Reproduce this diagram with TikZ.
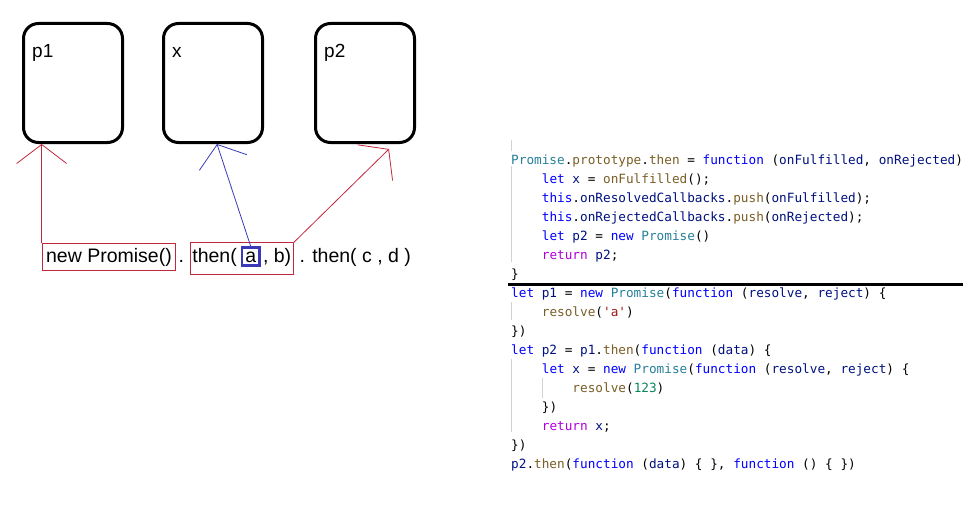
\documentclass[tikz,border=0pt]{standalone}
\usepackage{fontspec}
\setmainfont{Liberation Sans}
\newfontfamily\codefont{DejaVu Sans Mono}
\usetikzlibrary{positioning,fit,arrows.meta}
\definecolor{kwblue}{HTML}{0000FF}
\definecolor{tyteal}{HTML}{267F99}
\definecolor{fnbrown}{HTML}{795E26}
\definecolor{vrnavy}{HTML}{001080}
\definecolor{rtpurple}{HTML}{AF00DB}
\definecolor{strred}{HTML}{A31515}
\definecolor{numgreen}{HTML}{098658}
\definecolor{boxred}{HTML}{C0283C}
\definecolor{ablue}{HTML}{3A3AB8}
\newcommand\cKw[1]{\textcolor{kwblue}{#1}}
\newcommand\cTy[1]{\textcolor{tyteal}{#1}}
\newcommand\cFn[1]{\textcolor{fnbrown}{#1}}
\newcommand\cVr[1]{\textcolor{vrnavy}{#1}}
\newcommand\cRt[1]{\textcolor{rtpurple}{#1}}
\newcommand\cSt[1]{\textcolor{strred}{#1}}
\newcommand\cNm[1]{\textcolor{numgreen}{#1}}
\tikzset{
  pbox/.style={draw, line width=3pt, rounded corners=15pt, minimum width=99pt, minimum height=119pt},
  plbl/.style={anchor=base west, inner sep=0, font=\fontsize{19}{22}\selectfont},
  row/.style={inner xsep=2pt, inner ysep=4.5pt, text height=15pt, text depth=3pt, font=\fontsize{19.5}{22}\selectfont},
  redbox/.style={draw=boxred, line width=1pt},
  link/.style={line width=0.8pt, -{Straight Barb[length=19pt,width=50pt]}},
  code/.style={anchor=base west, inner sep=0, font=\codefont\fontsize{12.72}{19}\selectfont},
  guide/.style={draw=gray!35, line width=0.8pt}
}
\begin{document}
\begin{tikzpicture}[x=1pt,y=-1pt]
\pgfmathsetmacro\lh{19};
\pgfmathsetmacro\ind{30.64};
\useasboundingbox (0,0) rectangle (966,527);
\foreach \n/\cx/\lbl in {bp1/73/p1, bx/213/x, bp2/365/p2} {
  \node[pbox] (\n) at (\cx,83) {};
  \node[plbl] (\n l) at ([xshift=10pt,yshift=-35pt]\n.north west) {\lbl};
}
\node[row, redbox, inner xsep=4pt] (np) at (109,256.5) {new Promise()};
\node[row, right=0pt of np] (dot1) {.};
\node[row, right=4pt of dot1] (then1) {then(};
\node[row, draw=ablue, line width=2.5pt, inner xsep=3.5pt, inner ysep=2pt, text height=13pt, text depth=1pt, right=1.5pt of then1] (a) {a};
\node[row, right=0pt of a] (b) {, b)};
\coordinate (tlow) at ([yshift=-4pt]then1.south);
\node[redbox, fit=(then1)(a)(b)(tlow), inner sep=0] (tbox) {};
\node[row, right=4pt of b] (cd) {. then( c , d )};
\draw[link, draw=boxred] (np.north west) -- (np.north west |- bp1.south);
\draw[link, draw=ablue] (a.north) -- ([xshift=4pt]bx.south);
\draw[link, draw=boxred] (tbox.north east) -- ([xshift=-27pt,yshift=-5pt]bp2.south east);
\draw[guide] (511.5,140) -- (511.5,151);
\draw[guide] (511.5,166) -- (511.5,262);
\draw[guide] (511.5,302) -- (511.5,320);
\draw[guide] (511.5,359) -- (511.5,432);
\draw[guide] (542.5,378) -- (542.5,398);
\node[code] (c1) at (511,164) {\cTy{Promise}.\cFn{prototype}.\cFn{then} = \cKw{function} (\cVr{onFulfilled}, \cVr{onRejected})};
\node[code] (c2) at (511+\ind,164+\lh*1) {\cKw{let} \cVr{x} = \cFn{onFulfilled}();};
\node[code] (c3) at (511+\ind,164+\lh*2) {\cKw{this}.\cVr{onResolvedCallbacks}.\cFn{push}(\cVr{onFulfilled});};
\node[code] (c4) at (511+\ind,164+\lh*3) {\cKw{this}.\cVr{onRejectedCallbacks}.\cFn{push}(\cVr{onRejected});};
\node[code] (c5) at (511+\ind,164+\lh*4) {\cKw{let} \cVr{p2} = \cKw{new} \cTy{Promise}()};
\node[code] (c6) at (511+\ind,164+\lh*5) {\cRt{return} \cVr{p2};};
\node[code] (c7) at (511,164+\lh*6) {\}};
\draw[line width=3pt] (508,284.5) -- (963,284.5);
\node[code] (c8) at (511,164+\lh*7) {\cKw{let} \cVr{p1} = \cKw{new} \cTy{Promise}(\cKw{function} (\cVr{resolve}, \cVr{reject}) \{};
\node[code] (c9) at (511+\ind,164+\lh*8) {\cFn{resolve}(\cSt{'a'})};
\node[code] (c10) at (511,164+\lh*9) {\})};
\node[code] (c11) at (511,164+\lh*10) {\cKw{let} \cVr{p2} = \cVr{p1}.\cFn{then}(\cKw{function} (\cVr{data}) \{};
\node[code] (c12) at (511+\ind,164+\lh*11) {\cKw{let} \cVr{x} = \cKw{new} \cTy{Promise}(\cKw{function} (\cVr{resolve}, \cVr{reject}) \{};
\node[code] (c13) at (511+\ind*2,164+\lh*12) {\cFn{resolve}(\cNm{123})};
\node[code] (c14) at (511+\ind,164+\lh*13) {\})};
\node[code] (c15) at (511+\ind,164+\lh*14) {\cRt{return} \cVr{x};};
\node[code] (c16) at (511,164+\lh*15) {\})};
\node[code] (c17) at (511,164+\lh*16) {\cVr{p2}.\cFn{then}(\cKw{function} (\cVr{data}) \{ \}, \cKw{function} () \{ \})};
\end{tikzpicture}
\end{document}
